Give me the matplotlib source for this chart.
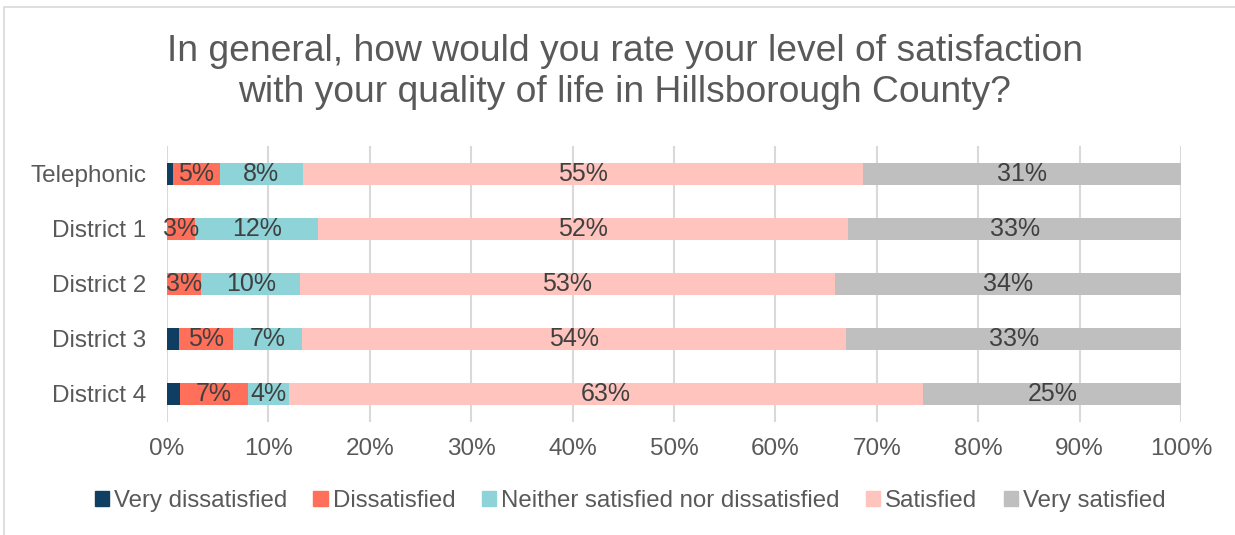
import matplotlib.pyplot as plt
import matplotlib.patches as mpatches
import numpy as np

# Data (percent)
groups = ['Telephonic', 'District 1', 'District 2', 'District 3', 'District 4']
very_dissatisfied = [0.6, 0.0, 0.0, 1.2, 1.3]
dissatisfied = [4.6, 2.8, 3.4, 5.3, 6.7]
neither = [8.2, 12.1, 9.7, 6.8, 4.0]
satisfied = [55.2, 52.3, 52.8, 53.7, 62.6]
very_satisfied = [31.4, 32.8, 34.1, 33.0, 25.4]

series = ['Very dissatisfied', 'Dissatisfied', 'Neither satisfied nor dissatisfied',
          'Satisfied', 'Very satisfied']
colors = ['#0E3F63', '#FF6F59', '#8DD3D8', '#FFC4BE', '#BFBFBF']
values = [very_dissatisfied, dissatisfied, neither, satisfied, very_satisfied]

plt.rcParams['font.family'] = ['Liberation Sans', 'DejaVu Sans']

fig = plt.figure(figsize=(12.35, 5.35), dpi=100)
W, H = 1235, 535
ax = fig.add_axes([167 / W, 1 - 421.5 / H, (1181 - 167) / W, (421.5 - 146.2) / H])

# outer chart border
fig.patches.append(mpatches.Rectangle((4 / W, -0.1), 1.2, 1 - 7 / H + 0.1,
                                      transform=fig.transFigure, fill=False,
                                      edgecolor='#D9D9D9', linewidth=1.2))

y = np.arange(len(groups))
left = np.zeros(len(groups))
for name, vals, c in zip(series, values, colors):
    vals = np.array(vals)
    ax.barh(y, vals, left=left, height=0.4, color=c, label=name, zorder=3)
    for yi, l, v in zip(y, left, vals):
        if v >= 2.5:
            ax.text(l + v / 2, yi, f'{round(v):.0f}%', ha='center', va='center',
                    fontsize=18, color='#404040', zorder=4)
    left += vals

ax.set_xlim(0, 100)
ax.set_ylim(len(groups) - 0.5, -0.5)
ax.set_yticks(y)
ax.set_yticklabels(groups, fontsize=17.5, color='#595959')
ax.set_xticks(np.arange(0, 101, 10))
ax.set_xticklabels([f'{t}%' for t in range(0, 101, 10)], fontsize=17.5, color='#595959')
ax.tick_params(length=0)
ax.tick_params(axis='x', pad=12)
ax.tick_params(axis='y', pad=15)
ax.grid(axis='x', color='#D9D9D9', linewidth=1.5, zorder=0)
for s in ax.spines.values():
    s.set_visible(False)

fig.text(625 / W, 1 - 72 / H,
         'In general, how would you rate your level of satisfaction\nwith your quality of life in Hillsborough County?',
         ha='center', va='center', fontsize=26.8, color='#595959', linespacing=1.2)

handles = [mpatches.Patch(color=c) for c in colors]
fig.legend(handles, series, loc='center', bbox_to_anchor=(630 / W, 1 - 501 / H), ncol=5,
           frameon=False, fontsize=17.3, handlelength=0.6, handleheight=0.6,
           handletextpad=0.2, columnspacing=1.1, labelcolor='#595959')

fig.savefig('out.png', dpi=100)
